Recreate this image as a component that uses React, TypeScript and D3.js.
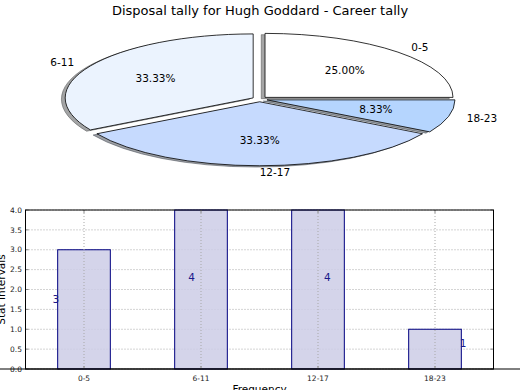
import React from "react";
import * as d3 from "d3";

const title = "Disposal tally for Hugh Goddard - Career tally";
const categories = ["0-5", "6-11", "12-17", "18-23"];
const tallies = [3, 4, 4, 1];
const sliceColors = ["#ffffff", "#ebf3fe", "#c6dafe", "#b5d5fe"];
const yTicks = [0, 0.5, 1, 1.5, 2, 2.5, 3, 3.5, 4];

const W = 520;
const H = 390;
const font = "DejaVu Sans, sans-serif";

// pie geometry (elliptical, like an unequal-aspect matplotlib pie)
const cx = 259.7;
const cy = 99.2;
const rx = 188;
const ry = 64;
const explode = 0.04;

const shade = (c: string) => {
  const col = d3.rgb(c);
  return d3.rgb(col.r * 0.3, col.g * 0.3, col.b * 0.3).toString();
};

const Pie = () => {
  const total = d3.sum(tallies);
  // matplotlib style: start at 3 o'clock, counterclockwise
  const arcs = d3
    .pie<number>()
    .value((d) => d)
    .sort(null)
    .startAngle(Math.PI / 2)
    .endAngle(Math.PI / 2 - 2 * Math.PI)(tallies);
  const createArc = d3.arc<d3.PieArcDatum<number>>().innerRadius(0).outerRadius(1);

  const parts = arcs.map((a, i) => {
    const mid = (a.startAngle + a.endAngle) / 2;
    const sx = Math.sin(mid);
    const sy = -Math.cos(mid);
    return { a, i, mid, sx, sy, ox: explode * rx * sx, oy: explode * ry * sy };
  });

  return (
    <g>
      {parts.map((p) => (
        <g key={"s" + p.i} transform={`translate(${cx + p.ox - 0.02 * rx} ${cy + p.oy + 0.02 * ry}) scale(${rx} ${ry})`}>
          <path
            d={createArc(p.a) || ""}
            fill={shade(sliceColors[p.i])}
            fillOpacity={0.5}
            stroke={shade(sliceColors[p.i])}
            strokeOpacity={0.5}
            strokeWidth={1}
            vectorEffect="non-scaling-stroke"
          />
        </g>
      ))}
      {parts.map((p) => (
        <g key={"w" + p.i} transform={`translate(${cx + p.ox} ${cy + p.oy}) scale(${rx} ${ry})`}>
          <path
            d={createArc(p.a) || ""}
            fill={sliceColors[p.i]}
            stroke="#000"
            strokeWidth={0.8}
            strokeLinejoin="round"
            vectorEffect="non-scaling-stroke"
          />
        </g>
      ))}
      {parts.map((p) => {
        const d = 1.1 + explode;
        const lx = cx + d * rx * p.sx;
        const ly = cy + d * ry * p.sy;
        const pd = 0.6 + explode;
        return (
          <g key={"t" + p.i} fontFamily={font} fontSize={10.5} fill="#000">
            <text x={lx} y={ly} dy="0.35em" textAnchor={p.sx >= -1e-6 ? "start" : "end"}>
              {categories[p.i]}
            </text>
            <text x={cx + pd * rx * p.sx} y={cy + pd * ry * p.sy} dy="0.35em" textAnchor="middle">
              {((tallies[p.i] / total) * 100).toFixed(2) + "%"}
            </text>
          </g>
        );
      })}
    </g>
  );
};

const Bars = () => {
  const left = 25.5;
  const right = 493.5;
  const top = 210;
  const bottom = 369;
  const x = d3.scaleLinear().domain([-0.5, categories.length - 0.5]).range([left, right]);
  const y = d3.scaleLinear().domain([0, 4]).range([bottom, top]);
  const bw = 0.45;
  const grid = { stroke: "#a8a8a8", strokeWidth: 1, strokeDasharray: "1,2" };

  return (
    <g fontFamily={font}>
      {yTicks.map((t) => (
        <line key={"gy" + t} x1={left} x2={right} y1={y(t)} y2={y(t)} {...grid} />
      ))}
      {tallies.map((v, i) => (
        <rect
          key={"b" + i}
          x={x(i - bw / 2)}
          y={y(v)}
          width={x(bw) - x(0)}
          height={y(0) - y(v)}
          fill="#cdcde6"
          fillOpacity={0.85}
          stroke="#000080"
          strokeWidth={1}
        />
      ))}
      {categories.map((c, i) => (
        <line key={"gx" + c} x1={x(i)} x2={x(i)} y1={top} y2={bottom} {...grid} />
      ))}
      {yTicks.map((t) => (
        <g key={"ty" + t}>
          <line x1={left} x2={left + 3} y1={y(t)} y2={y(t)} stroke="#888" />
          <line x1={right - 3} x2={right} y1={y(t)} y2={y(t)} stroke="#888" />
          <text x={22} y={y(t)} dy="0.35em" textAnchor="end" fontSize={7.5} fill="#222">
            {t.toFixed(1)}
          </text>
        </g>
      ))}
      {categories.map((c, i) => (
        <g key={"tx" + c}>
          <line x1={x(i)} x2={x(i)} y1={bottom} y2={bottom - 3} stroke="#888" />
          <line x1={x(i)} x2={x(i)} y1={top} y2={top + 3} stroke="#888" />
          <text x={x(i)} y={bottom + 9} dy="0.35em" textAnchor="middle" fontSize={7.5} fill="#222">
            {c}
          </text>
        </g>
      ))}
      <rect x={left} y={top} width={right - left} height={bottom - top} fill="none" stroke="#000" strokeWidth={1} />
      <line x1={0} x2={W} y1={bottom} y2={bottom} stroke="#000" strokeWidth={1} />
      {tallies.map((v, i) => (
        <text
          key={"v" + i}
          x={x(i * 1.16 - 0.24)}
          y={y(v * 0.55 + 0.1)}
          dy="0.35em"
          textAnchor="middle"
          fontSize={10.5}
          fill="#1a1a8a"
        >
          {v}
        </text>
      ))}
      <text transform={`translate(4.5 ${(top + bottom) / 2}) rotate(-90)`} textAnchor="middle" fontSize={10.5}>
        Stat Intervals
      </text>
      <text x={(left + right) / 2} y={392.5} textAnchor="middle" fontSize={10.5}>
        Frequency
      </text>
    </g>
  );
};

export default function App() {
  return (
    <svg width={W} height={H} style={{ position: "absolute", left: 0, top: 0, background: "#fff" }}>
      <rect width={W} height={H} fill="#fff" />
      <text x={W / 2} y={15} textAnchor="middle" fontFamily={font} fontSize={13}>
        {title}
      </text>
      <Pie />
      <Bars />
    </svg>
  );
}
